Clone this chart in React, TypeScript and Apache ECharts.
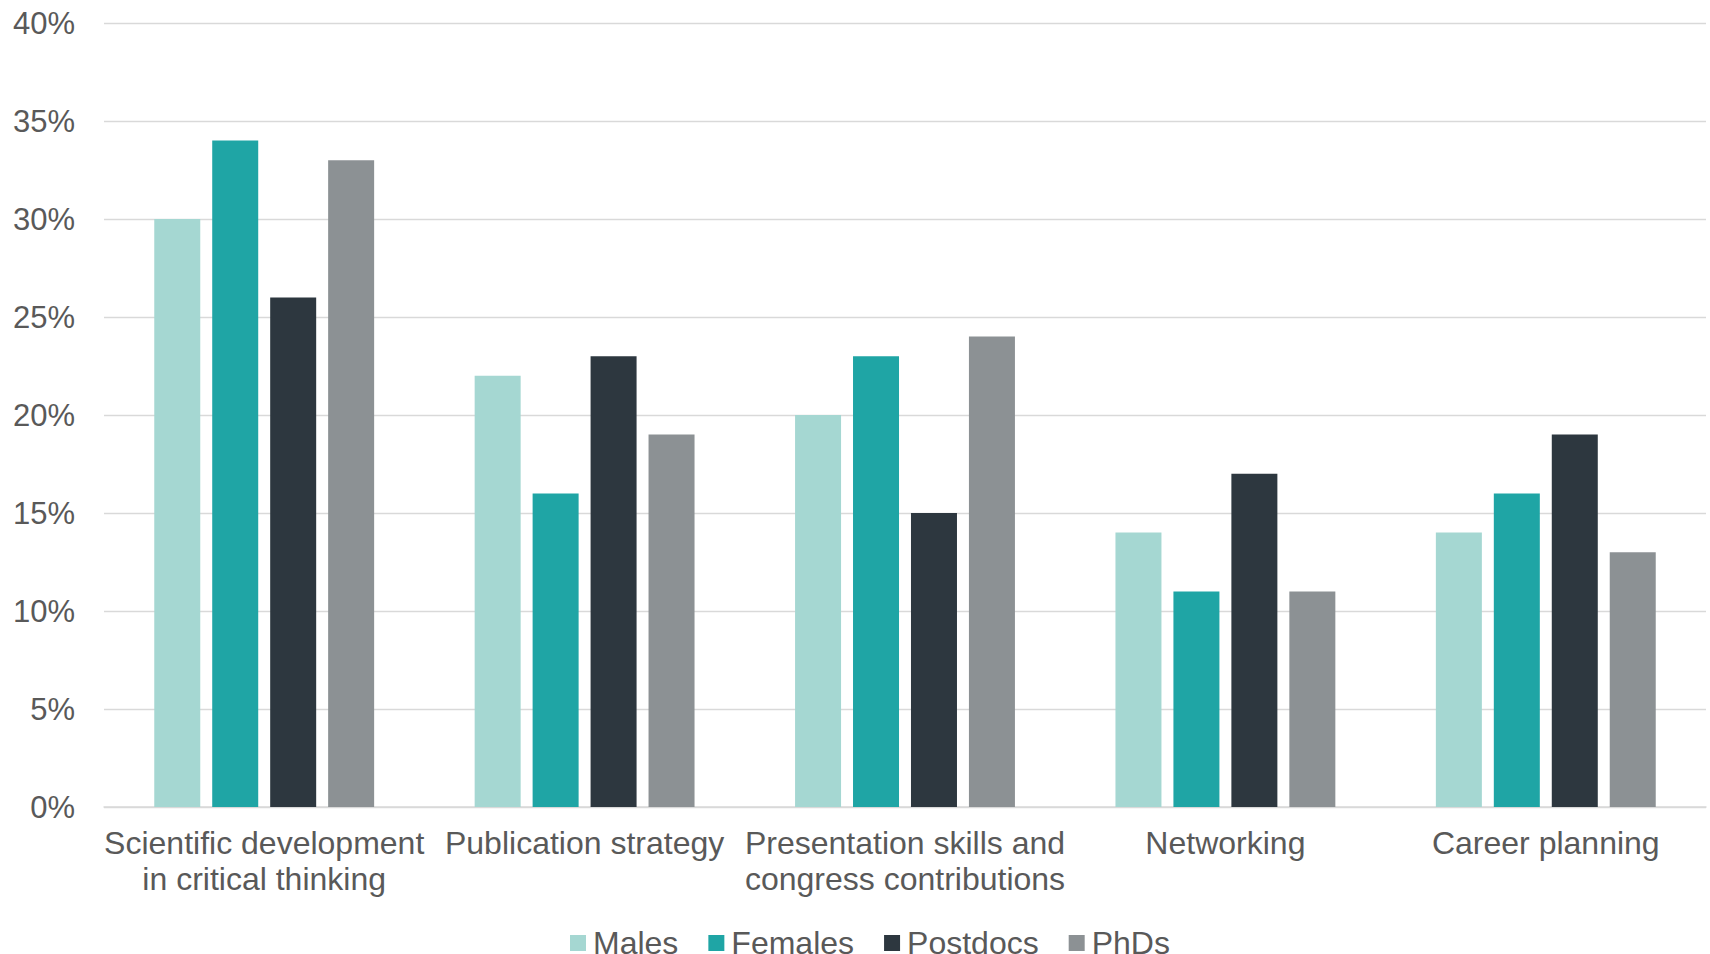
import React, { useEffect, useRef } from "react";
import * as echarts from "echarts";

// Survey topics (x-axis categories)
const categories = [
  "Scientific development\nin critical thinking",
  "Publication strategy",
  "Presentation skills and\ncongress contributions",
  "Networking",
  "Career planning",
];

// Share of respondents per group, in percent
const males = [30, 22, 20, 14, 14];
const females = [34, 16, 23, 11, 16];
const postdocs = [26, 23, 15, 17, 19];
const phds = [33, 19, 24, 11, 13];

const seriesNames = ["Males", "Females", "Postdocs", "PhDs"];
const seriesColors = ["#a5d7d2", "#1fa5a5", "#2d373f", "#8c9194"];

const FONT = "'Liberation Sans', Arial, Helvetica, sans-serif";
const TEXT = "#595959";

export default function App() {
  const ref = useRef<HTMLDivElement>(null);

  useEffect(() => {
    if (!ref.current) return;
    const chart = echarts.init(ref.current, undefined, { renderer: "svg" });
    const values = [males, females, postdocs, phds];
    chart.setOption({
      animation: false,
      textStyle: { fontFamily: FONT },
      grid: { left: 104, right: 4, top: 23, bottom: 147, containLabel: false },
      legend: {
        data: seriesNames,
        left: 570,
        top: 927,
        padding: 0,
        icon: "rect",
        itemWidth: 16,
        itemHeight: 16,
        itemGap: 30,
        textStyle: {
          fontSize: 32,
          lineHeight: 27,
          color: TEXT,
          fontFamily: FONT,
          padding: [0, 0, 0, 2],
        },
      },
      xAxis: {
        type: "category",
        data: categories,
        axisTick: { show: false },
        axisLine: { lineStyle: { color: "#d9d9d9", width: 1.5 } },
        axisLabel: {
          interval: 0,
          margin: 18,
          fontSize: 32,
          lineHeight: 36,
          color: TEXT,
          fontFamily: FONT,
          align: "center",
        },
      },
      yAxis: {
        type: "value",
        min: 0,
        max: 40,
        interval: 5,
        axisLine: { show: false },
        axisTick: { show: false },
        splitLine: { lineStyle: { color: "#d9d9d9", width: 1.3 } },
        axisLabel: {
          formatter: "{value}%",
          fontSize: 31,
          color: TEXT,
          fontFamily: FONT,
          margin: 29,
        },
      },
      series: seriesNames.map((name, i) => ({
        name,
        type: "bar",
        data: values[i],
        barWidth: 46,
        barGap: "26%",
        itemStyle: { color: seriesColors[i] },
      })),
    });
    return () => chart.dispose();
  }, []);

  return (
    <div
      ref={ref}
      style={{ position: "fixed", left: 0, top: 0, width: 1710, height: 954, background: "#fff" }}
    />
  );
}
